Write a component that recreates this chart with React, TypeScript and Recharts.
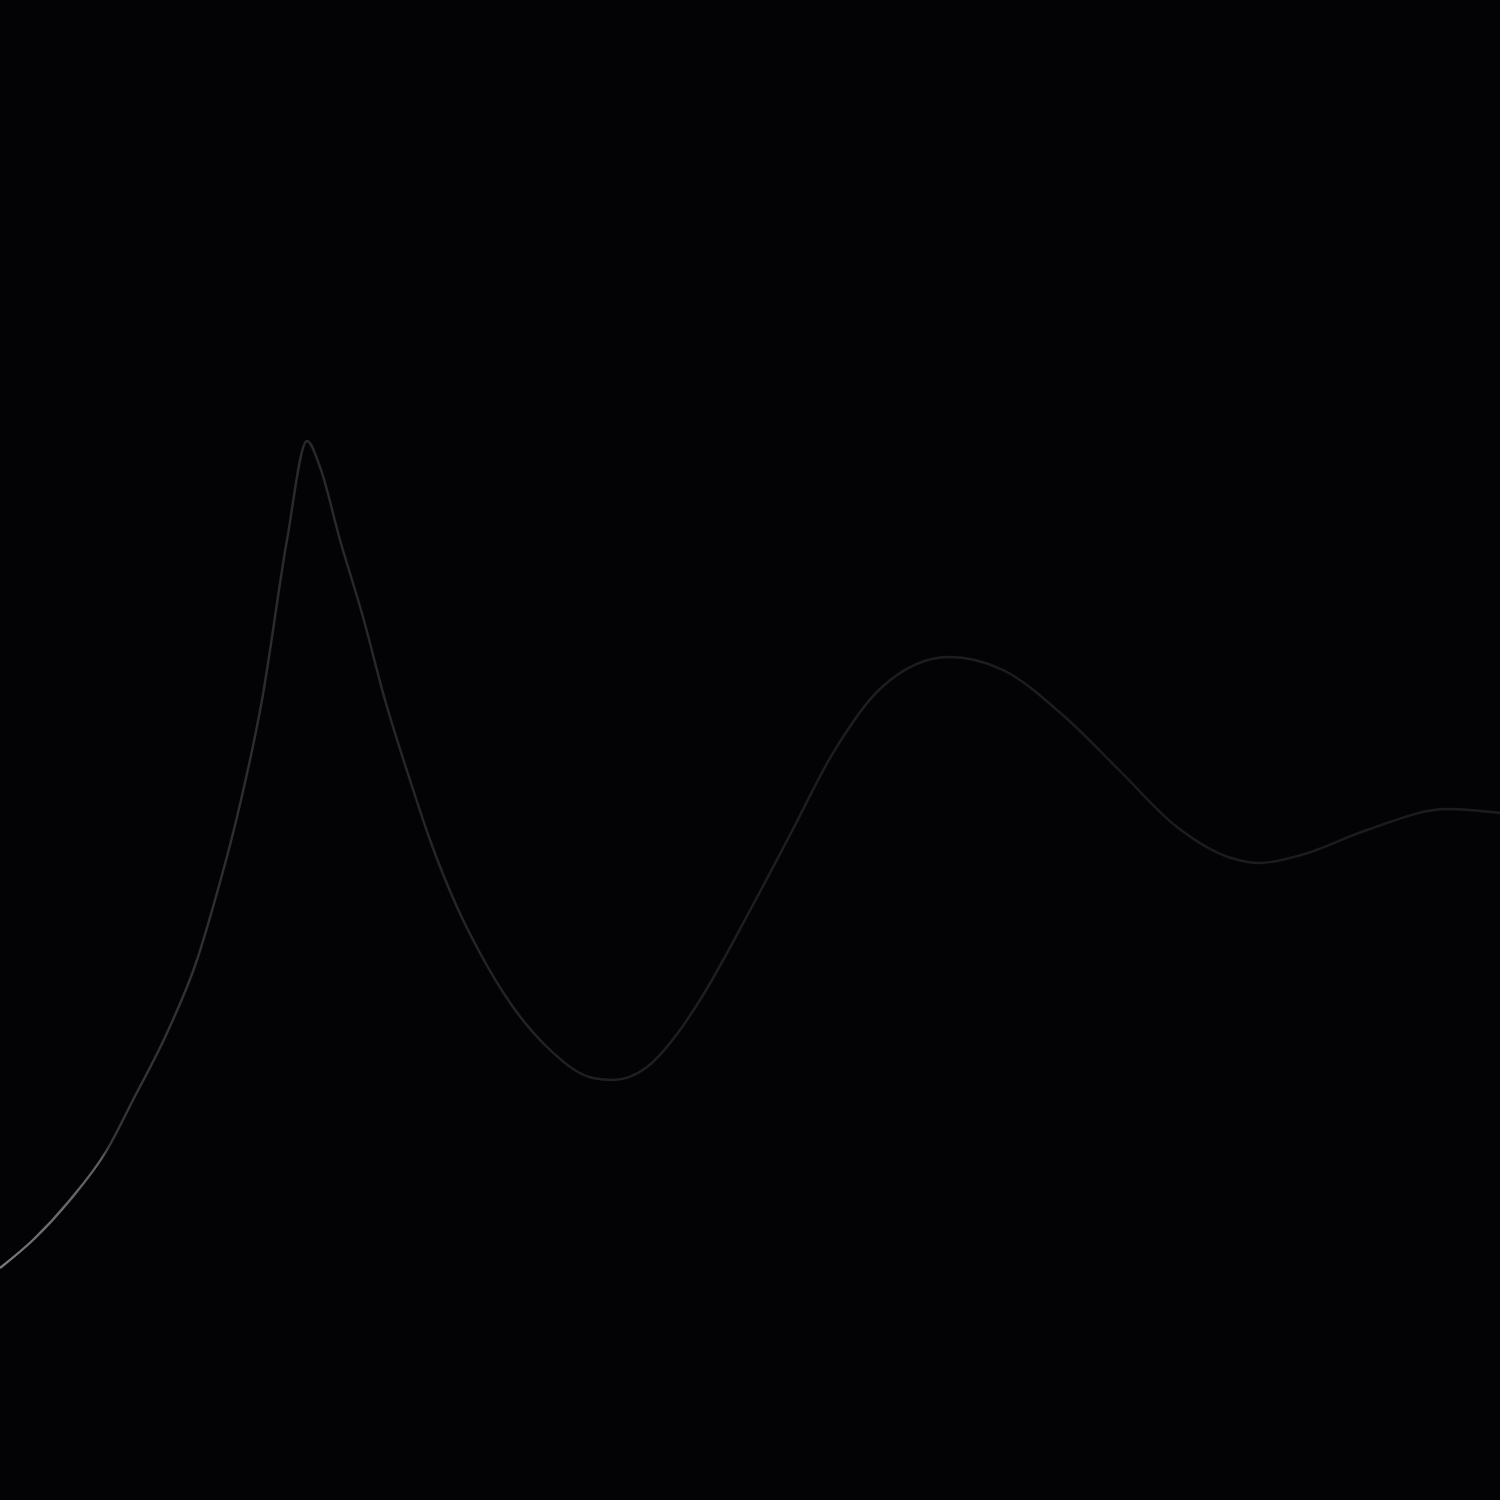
import React from 'react';
import { LineChart, Line, XAxis, YAxis } from 'recharts';

// horizontal position across the canvas
const xs = [
  0, 33, 70, 107, 133, 167, 197, 215, 237, 262, 287, 307,
  320, 340, 363, 385, 410, 430, 457, 480, 513, 547, 593, 613, 647, 680, 700,
  754, 791, 833, 882, 949, 1003, 1065, 1119, 1177, 1231, 1260, 1301, 1367, 1447, 1500,
];

// height of the curve above the bottom edge
const heights = [
  232, 260, 300, 350, 400, 467, 540, 600, 683, 800, 960, 1059,
  1033, 960, 883, 800, 720, 660, 593, 547, 493, 453, 422, 420, 433, 470, 500,
  597, 667, 747, 813, 843, 830, 783, 730, 673, 642, 637, 645, 670, 691, 687,
];

const data = xs.map((x, i) => ({ x, h: heights[i] }));

const W = 1500;
const H = 1500;

export default function App() {
  return (
    <div style={{ position: 'fixed', top: 0, left: 0, width: W, height: H, background: '#030205' }}>
      <LineChart width={W} height={H} data={data} margin={{ top: 0, right: 0, bottom: 0, left: 0 }}>
        <defs>
          <linearGradient id="fade" x1="0" y1="0" x2="1" y2="0">
            <stop offset="0%" stopColor="#7a7a7a" />
            <stop offset="6.8%" stopColor="#5c5c5c" />
            <stop offset="7.3%" stopColor="#353535" />
            <stop offset="20%" stopColor="#2a2a2b" />
            <stop offset="45%" stopColor="#1e1e20" />
            <stop offset="100%" stopColor="#1b1b1d" />
          </linearGradient>
        </defs>
        <XAxis dataKey="x" type="number" domain={[0, 1500]} hide />
        <YAxis type="number" domain={[0, 1500]} hide />
        <Line
          type="monotone"
          dataKey="h"
          stroke="url(#fade)"
          strokeWidth={2.4}
          dot={false}
          activeDot={false}
          isAnimationActive={false}
        />
      </LineChart>
    </div>
  );
}
